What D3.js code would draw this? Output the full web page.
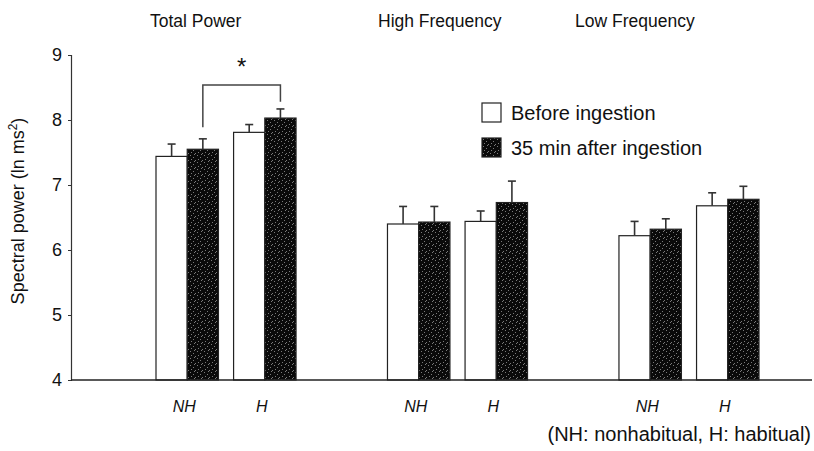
<!DOCTYPE html>
<html>
<head>
<meta charset="utf-8">
<script src="https://cdn.jsdelivr.net/npm/d3@7"></script>
<style>
  body { margin: 0; background: #fff; }
  svg { font-family: "Liberation Sans", Arial, sans-serif; }
</style>
</head>
<body>
<svg id="chart" width="814" height="451"></svg>
<script>
// data
const measures = ["Total Power", "High Frequency", "Low Frequency"];
const groups = ["NH", "H"];
const timings = ["Before ingestion", "35 min after ingestion"];
const beforeMean = [[7.44, 7.81], [6.40, 6.44], [6.22, 6.68]];
const beforeErr = [[0.19, 0.12], [0.27, 0.16], [0.22, 0.20]];
const afterMean = [[7.55, 8.03], [6.43, 6.73], [6.32, 6.78]];
const afterErr = [[0.16, 0.14], [0.24, 0.33], [0.16, 0.20]];
const yTicks = [4, 5, 6, 7, 8, 9];
// significance bracket (Total Power, after ingestion NH vs H)
const bracketTop = 8.54;
const bracketLegs = [7.89, 8.28];

const svg = d3.select("#chart");

let y = d3.scaleLinear().domain([4, 9]).range([380, 55]);
let x0 = d3.scaleBand().domain(measures).range([156, 759]).paddingInner(0.395).paddingOuter(0);
let x1 = d3.scaleBand().domain(groups).range([0, x0.bandwidth()]).paddingInner(0.195);
let x2 = d3.scaleBand().domain(timings).range([0, x1.bandwidth()]);

// stipple pattern for dark bars
const defs = svg.append("defs");
const pat = defs.append("pattern")
  .attr("id", "stipple")
  .attr("patternUnits", "userSpaceOnUse")
  .attr("width", 7).attr("height", 7);
pat.append("rect").attr("width", 7).attr("height", 7).attr("fill", "#0a0a0a");
[[1, 1], [4, 3], [2, 5], [6, 6], [5, 0]].forEach(p => {
  pat.append("rect").attr("x", p[0]).attr("y", p[1])
    .attr("width", 1).attr("height", 1).attr("fill", "#7a7a7a");
});

// rows
let rows = [];
measures.forEach((m, i) => {
  groups.forEach((g, j) => {
    rows.push({ m, g, t: timings[0], v: beforeMean[i][j], e: beforeErr[i][j] });
    rows.push({ m, g, t: timings[1], v: afterMean[i][j], e: afterErr[i][j] });
  });
});
const bx = d => x0(d.m) + x1(d.g) + x2(d.t);

// y axis
const yAxis = svg.append("g")
  .attr("transform", "translate(71,0)")
  .call(d3.axisLeft(y).tickValues(yTicks).tickSize(3).tickPadding(6).tickFormat(d3.format("d")));
yAxis.select(".domain").attr("stroke", "#333").attr("stroke-width", 1.2);
yAxis.selectAll(".tick line").attr("stroke", "#333");
yAxis.selectAll("text").style("font-size", "18px").attr("fill", "#111");

svg.append("text")
  .attr("transform", "translate(24,211) rotate(-90)")
  .attr("text-anchor", "middle")
  .style("font-size", "18px")
  .attr("fill", "#111")
  .html('Spectral power (ln ms<tspan dy="-7" font-size="12px">2</tspan><tspan dy="7">)</tspan>');

// bars
svg.append("g").selectAll("rect")
  .data(rows)
  .join("rect")
  .attr("x", bx)
  .attr("y", d => y(d.v))
  .attr("width", x2.bandwidth())
  .attr("height", d => y(4) - y(d.v))
  .attr("fill", d => d.t === timings[0] ? "#fff" : "url(#stipple)")
  .attr("stroke", "#222")
  .attr("stroke-width", 1.2);

// error bars (upper only)
const eb = svg.append("g").attr("stroke", "#333").attr("stroke-width", 1.6);
eb.selectAll("line.v")
  .data(rows)
  .join("line")
  .attr("class", "v")
  .attr("x1", d => bx(d) + x2.bandwidth() / 2)
  .attr("x2", d => bx(d) + x2.bandwidth() / 2)
  .attr("y1", d => y(d.v))
  .attr("y2", d => y(d.v + d.e));
eb.selectAll("line.c")
  .data(rows)
  .join("line")
  .attr("class", "c")
  .attr("x1", d => bx(d) + x2.bandwidth() / 2 - 4)
  .attr("x2", d => bx(d) + x2.bandwidth() / 2 + 4)
  .attr("y1", d => y(d.v + d.e))
  .attr("y2", d => y(d.v + d.e));

// baseline
svg.append("line")
  .attr("x1", 71).attr("x2", 812)
  .attr("y1", y(4)).attr("y2", y(4))
  .attr("stroke", "#222").attr("stroke-width", 1.5);

// group labels
svg.append("g").selectAll("text")
  .data(measures.flatMap(m => groups.map(g => ({ m, g }))))
  .join("text")
  .attr("x", d => x0(d.m) + x1(d.g) + x1.bandwidth() / 2 - 3)
  .attr("y", 412)
  .attr("text-anchor", "middle")
  .style("font-size", "16px")
  .style("font-style", "italic")
  .attr("fill", "#111")
  .text(d => d.g);

// panel titles
const titleX = [150, 378, 575];
svg.append("g").selectAll("text")
  .data(measures)
  .join("text")
  .attr("x", (d, i) => titleX[i])
  .attr("y", 27)
  .style("font-size", "17.5px")
  .attr("fill", "#111")
  .text(d => d);

// significance bracket
const tpAfter = rows.filter(d => d.m === measures[0] && d.t === timings[1]);
const lx = tpAfter.map(d => bx(d) + x2.bandwidth() / 2);
svg.append("path")
  .attr("d", `M${lx[0]},${y(bracketLegs[0])}V${y(bracketTop)}H${lx[1]}V${y(bracketLegs[1])}`)
  .attr("fill", "none")
  .attr("stroke", "#444")
  .attr("stroke-width", 1.5);
svg.append("text")
  .attr("x", (lx[0] + lx[1]) / 2)
  .attr("y", 75)
  .attr("text-anchor", "middle")
  .style("font-size", "24px")
  .attr("fill", "#111")
  .text("*");

// legend
const leg = svg.append("g").attr("transform", "translate(482,103)");
timings.forEach((t, i) => {
  leg.append("rect")
    .attr("x", 0).attr("y", i * 35)
    .attr("width", 19).attr("height", 19)
    .attr("fill", i === 0 ? "#fff" : "url(#stipple)")
    .attr("stroke", "#222").attr("stroke-width", 1.2);
  leg.append("text")
    .attr("x", 29).attr("y", i * 35 + 17)
    .style("font-size", "20px")
    .attr("fill", "#111")
    .text(t);
});

// footnote
svg.append("text")
  .attr("x", 811).attr("y", 441)
  .attr("text-anchor", "end")
  .style("font-size", "20px")
  .attr("fill", "#111")
  .text("(NH: nonhabitual, H: habitual)");
</script>
</body>
</html>
